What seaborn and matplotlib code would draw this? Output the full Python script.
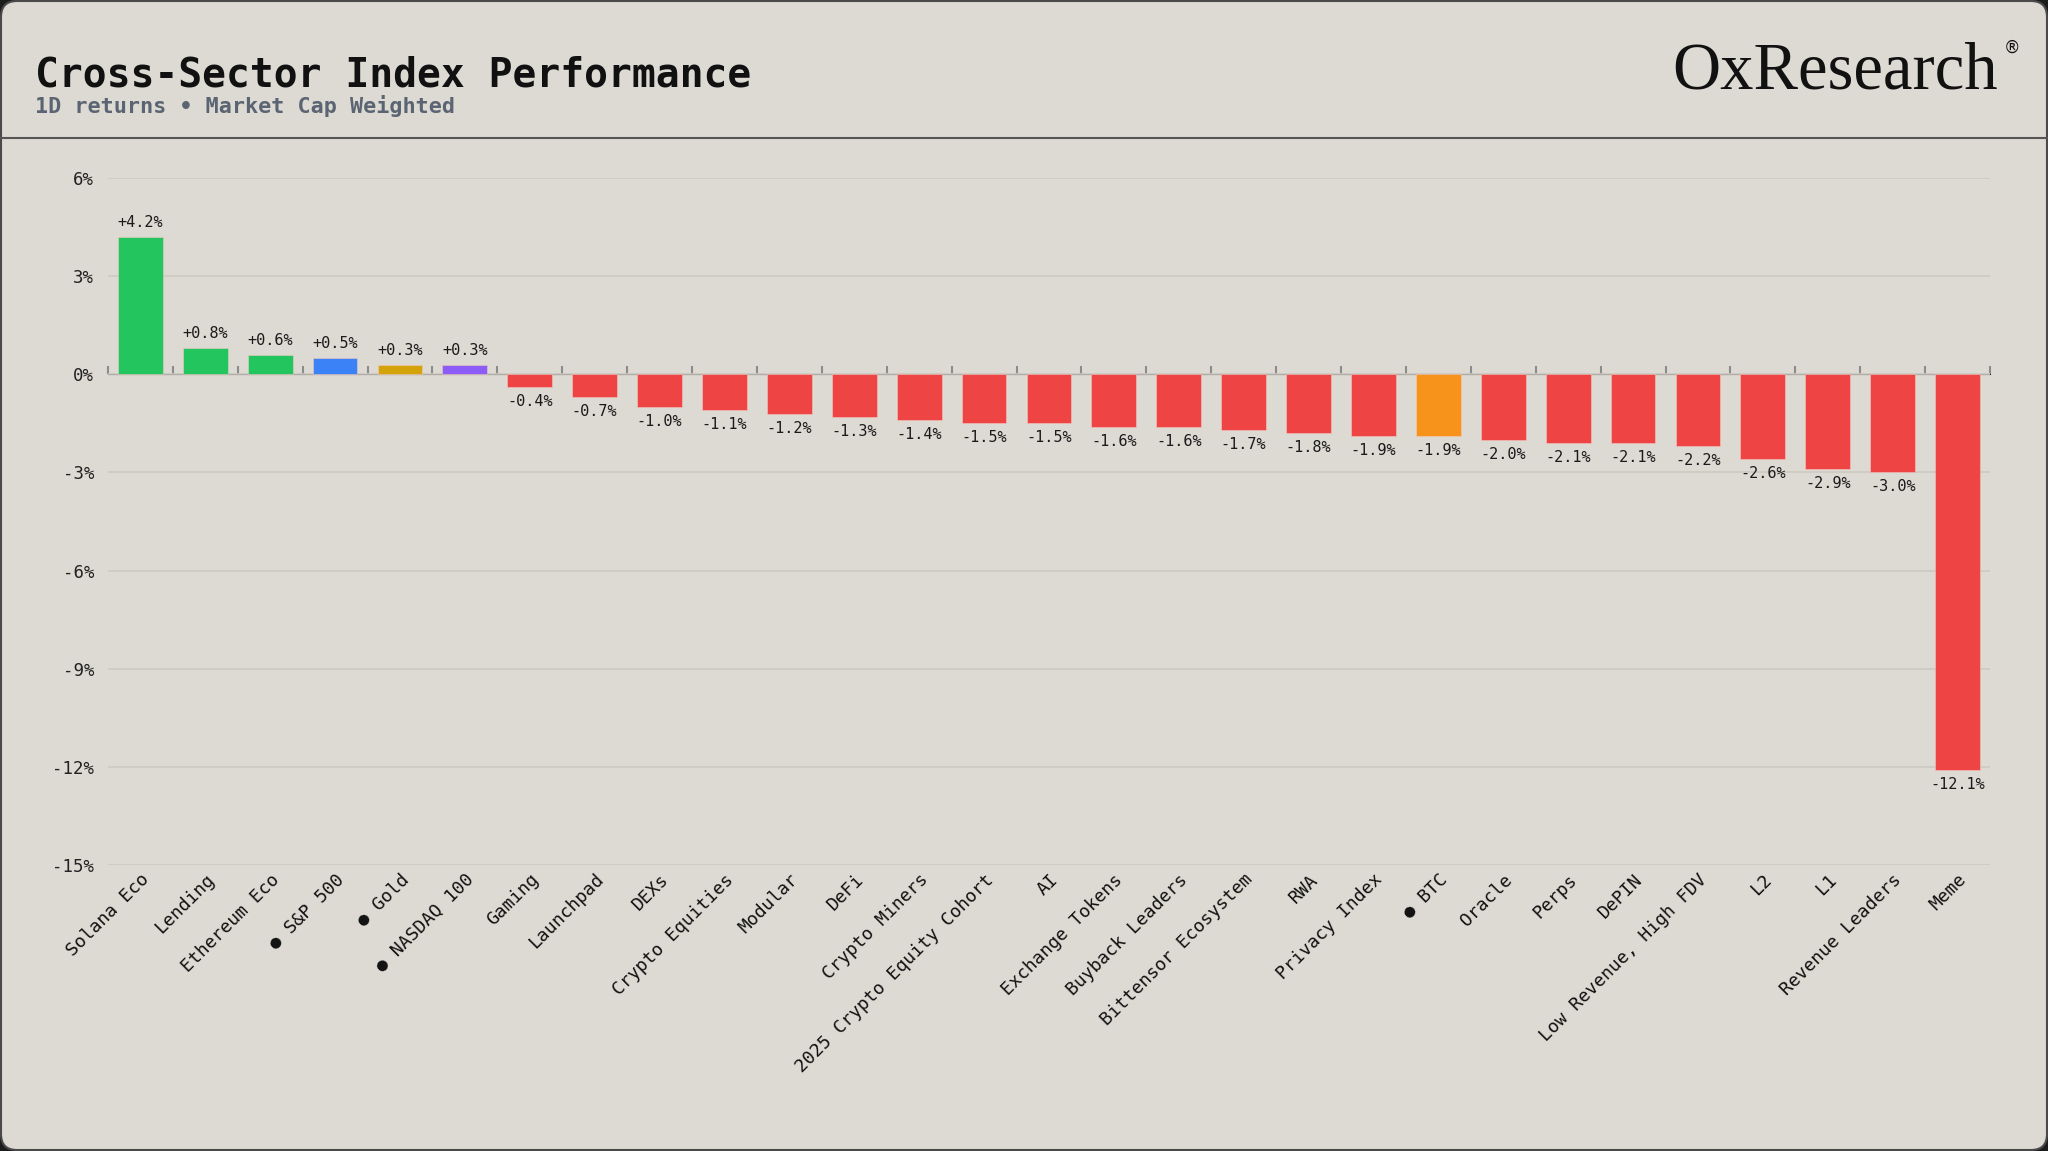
import matplotlib
matplotlib.use("Agg")
import matplotlib.pyplot as plt
import seaborn as sns
import numpy as np
from matplotlib.patches import FancyBboxPatch
from matplotlib.lines import Line2D

categories = ["Solana Eco", "Lending", "Ethereum Eco", "● S&P 500", "● Gold", "● NASDAQ 100",
              "Gaming", "Launchpad", "DEXs", "Crypto Equities", "Modular", "DeFi",
              "Crypto Miners", "2025 Crypto Equity Cohort", "AI", "Exchange Tokens",
              "Buyback Leaders", "Bittensor Ecosystem", "RWA", "Privacy Index", "● BTC",
              "Oracle", "Perps", "DePIN", "Low Revenue, High FDV", "L2", "L1",
              "Revenue Leaders", "Meme"]
values = [4.2, 0.8, 0.6, 0.5, 0.3, 0.3, -0.4, -0.7, -1.0, -1.1, -1.2, -1.3, -1.4, -1.5,
          -1.5, -1.6, -1.6, -1.7, -1.8, -1.9, -1.9, -2.0, -2.1, -2.1, -2.2, -2.6, -2.9,
          -3.0, -12.1]
colors = ["#22c55e", "#22c55e", "#22c55e", "#3b82f6", "#d4a30a", "#8b5cf6"] + \
         ["#ef4444"] * 14 + ["#f7931a"] + ["#ef4444"] * 8
yticks = [6, 3, 0, -3, -6, -9, -12, -15]

BG = "#dddad3"
MONO = ["DejaVu Sans Mono"]

sns.set_style("white")
plt.rcParams["font.family"] = MONO

W, H = 2048, 1151
fig = plt.figure(figsize=(W / 100, H / 100), dpi=100, facecolor="#1c1c1c")
card = FancyBboxPatch((0.01, 0.01), W / 100 - 0.02, H / 100 - 0.02,
                      boxstyle="round,pad=0,rounding_size=0.16",
                      transform=fig.dpi_scale_trans, facecolor=BG,
                      edgecolor="#4a4a4a", linewidth=1.5, zorder=-10)
fig.patches.append(card)

ax = fig.add_axes([0.0527, 0.2485, 0.9190, 0.5968])
ax.set_facecolor(BG)

sns.barplot(x=categories, y=values, hue=categories, palette=colors, legend=False,
            width=0.69, ax=ax, saturation=1, edgecolor="#f0c8c0", linewidth=0.4, zorder=3)

labels = [f"{v:+.1f}%" for v in values]
for cont, lab in zip(ax.containers, labels):
    ax.bar_label(cont, labels=[lab], padding=5, fontsize=11, color="#1a1a1a",
                 family=MONO, zorder=4)

ax.set_xlim(-0.5, len(categories) - 0.5)
ax.set_ylim(-15, 6)
ax.set_yticks(yticks)
ax.set_yticklabels([f"{t}%" for t in yticks], fontsize=12.5, color="#222222")
ax.yaxis.grid(True, color="#cdcac2", linewidth=1.2, zorder=0)
ax.xaxis.grid(False)
ax.set_axisbelow(True)
for s in ax.spines.values():
    s.set_visible(False)
ax.tick_params(axis="y", length=0, pad=10)
ax.tick_params(axis="x", length=0, pad=4)
ax.set_xticks(range(len(categories)))
ax.set_xticklabels(categories, rotation=45, ha="right", va="top",
                   rotation_mode="anchor", fontsize=13, color="#111111")
ax.set_xlabel("")
ax.set_ylabel("")

# zero axis with boundary ticks
zero_frac = (0 - (-15)) / (6 - (-15))
sec = ax.secondary_xaxis(zero_frac)
sec.set_xticks(np.arange(len(categories) + 1) - 0.5)
sec.set_xticklabels([])
sec.tick_params(axis="x", direction="out", length=6, width=1.5, color="#8c8c8c")
sec.spines["bottom"].set_color("#8c8c8c")
sec.spines["bottom"].set_linewidth(1.8)
sec.spines["bottom"].set_zorder(5)

# header
fig.text(0.0171, 0.925, "Cross-Sector Index Performance", fontsize=28.5, fontweight="bold",
         color="#111111", family=MONO, va="baseline")
fig.text(0.0171, 0.9015, "1D returns • Market Cap Weighted", fontsize=15.7, fontweight="bold",
         color="#5b6472", family=MONO, va="baseline")
fig.add_artist(Line2D([0.0, 1.0], [0.8797, 0.8797], transform=fig.transFigure,
                      color="#555555", linewidth=1.5))
fig.text(0.9756, 0.923, "OxResearch", fontsize=48, color="#111111",
         family=["Liberation Serif"], ha="right", va="baseline")
fig.text(0.9785, 0.966, "®", fontsize=12, color="#111111",
         family=["DejaVu Sans"], ha="left", va="top")

fig.savefig("out.png", dpi=100, facecolor=fig.get_facecolor())
